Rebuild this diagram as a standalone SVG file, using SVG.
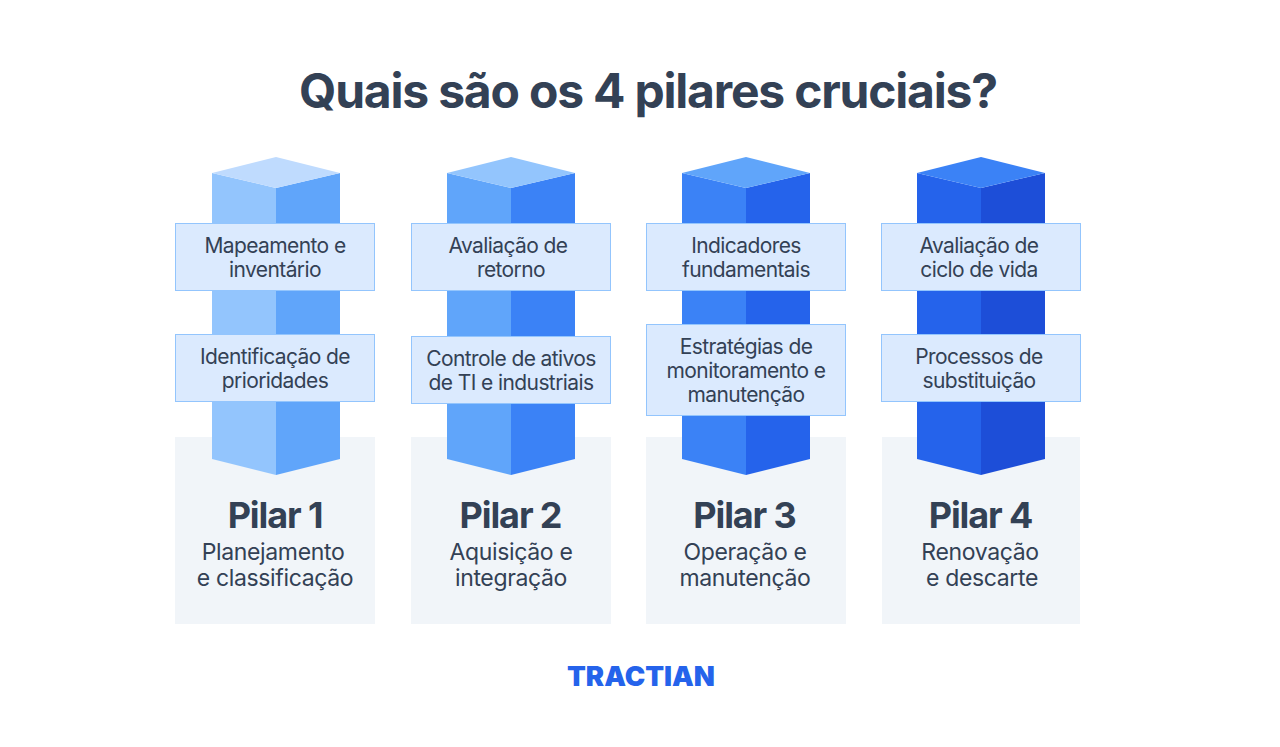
<svg xmlns="http://www.w3.org/2000/svg" width="1280" height="747" viewBox="0 0 1280 747">
<style>
text{font-family:Inter,"Liberation Sans",sans-serif;fill:#334155;text-anchor:middle}
.t{font-size:48px;font-weight:700;letter-spacing:-1.2px}
.b{font-size:21px;letter-spacing:-.6px}
.h{font-size:36px;font-weight:700;letter-spacing:-1.1px}
.s{font-size:23px;letter-spacing:-.35px}
.box{fill:#dbeafe;stroke:#93c5fd;stroke-width:1}
.bg{fill:#f1f5f9}
</style>
<rect width="1280" height="747" fill="#fff"/>
<text id="title" class="t" x="648" y="108">Quais são os 4 pilares cruciais?</text>
<g id="pilar1">
<rect class="bg" x="175" y="437" width="200" height="187"/>
<path fill="#93c5fd" d="M212 173L276 188V475L212 459Z"/><path fill="#60a5fa" d="M340 173L276 188V475L340 459Z"/><path fill="#bfdbfe" d="M212 173L276 157L340 173L276 188Z"/>
<rect class="box" x="175.500" y="223.500" width="199" height="67"/>
<text class="b" x="275" y="252.500">Mapeamento e</text><text class="b" x="275" y="276.500">inventário</text>
<rect class="box" x="175.500" y="334.500" width="199" height="67"/>
<text class="b" x="275" y="363.500">Identificação de</text><text class="b" x="275" y="387.500">prioridades</text>
<text class="h" x="275" y="528">Pilar 1</text>
<text class="s" x="273" y="559.500">Planejamento</text><text class="s" x="275" y="585.500">e classificação</text>
</g>
<g id="pilar2">
<rect class="bg" x="411" y="437" width="200" height="187"/>
<path fill="#60a5fa" d="M447 173L511 188V475L447 459Z"/><path fill="#3b82f6" d="M575 173L511 188V475L575 459Z"/><path fill="#93c5fd" d="M447 173L511 157L575 173L511 188Z"/>
<rect class="box" x="411.500" y="223.500" width="199" height="67"/>
<text class="b" x="508" y="252.500">Avaliação de</text><text class="b" x="511" y="276.500">retorno</text>
<rect class="box" x="411.500" y="336.500" width="199" height="67"/>
<text class="b" x="511" y="365.500">Controle de ativos</text><text class="b" x="511" y="389.500">de TI e industriais</text>
<text class="h" x="510.500" y="528">Pilar 2</text>
<text class="s" x="511" y="559.500">Aquisição e</text><text class="s" x="511" y="585.500">integração</text>
</g>
<g id="pilar3">
<rect class="bg" x="646" y="437" width="200" height="187"/>
<path fill="#3b82f6" d="M682 173L746 188V475L682 459Z"/><path fill="#2563eb" d="M810 173L746 188V475L810 459Z"/><path fill="#60a5fa" d="M682 173L746 157L810 173L746 188Z"/>
<rect class="box" x="646.500" y="223.500" width="199" height="67"/>
<text class="b" x="746" y="252.500">Indicadores</text><text class="b" x="746" y="276.500">fundamentais</text>
<rect class="box" x="646.500" y="324.500" width="199" height="91"/>
<text class="b" x="746" y="353.500">Estratégias de</text><text class="b" x="746" y="377.500">monitoramento e</text><text class="b" x="746" y="401.500">manutenção</text>
<text class="h" x="744.500" y="528">Pilar 3</text>
<text class="s" x="745" y="559.500">Operação e</text><text class="s" x="745" y="585.500">manutenção</text>
</g>
<g id="pilar4">
<rect class="bg" x="882" y="437" width="198" height="187"/>
<path fill="#2563eb" d="M917 173L981 188V475L917 459Z"/><path fill="#1d4ed8" d="M1045 173L981 188V475L1045 459Z"/><path fill="#3b82f6" d="M917 173L981 157L1045 173L981 188Z"/>
<rect class="box" x="881.500" y="223.500" width="199" height="67"/>
<text class="b" x="979" y="252.500">Avaliação de</text><text class="b" x="979" y="276.500">ciclo de vida</text>
<rect class="box" x="881.500" y="334.500" width="199" height="67"/>
<text class="b" x="979" y="363.500">Processos de</text><text class="b" x="979" y="387.500">substituição</text>
<text class="h" x="980.500" y="528">Pilar 4</text>
<text class="s" x="980" y="559.500">Renovação</text><text class="s" x="982" y="585.500">e descarte</text>
</g>
<text id="logo" x="641" y="686" textLength="148" lengthAdjust="spacingAndGlyphs" style="font-size:27px;font-weight:900;fill:#2563eb">TRACTIAN</text>
</svg>
